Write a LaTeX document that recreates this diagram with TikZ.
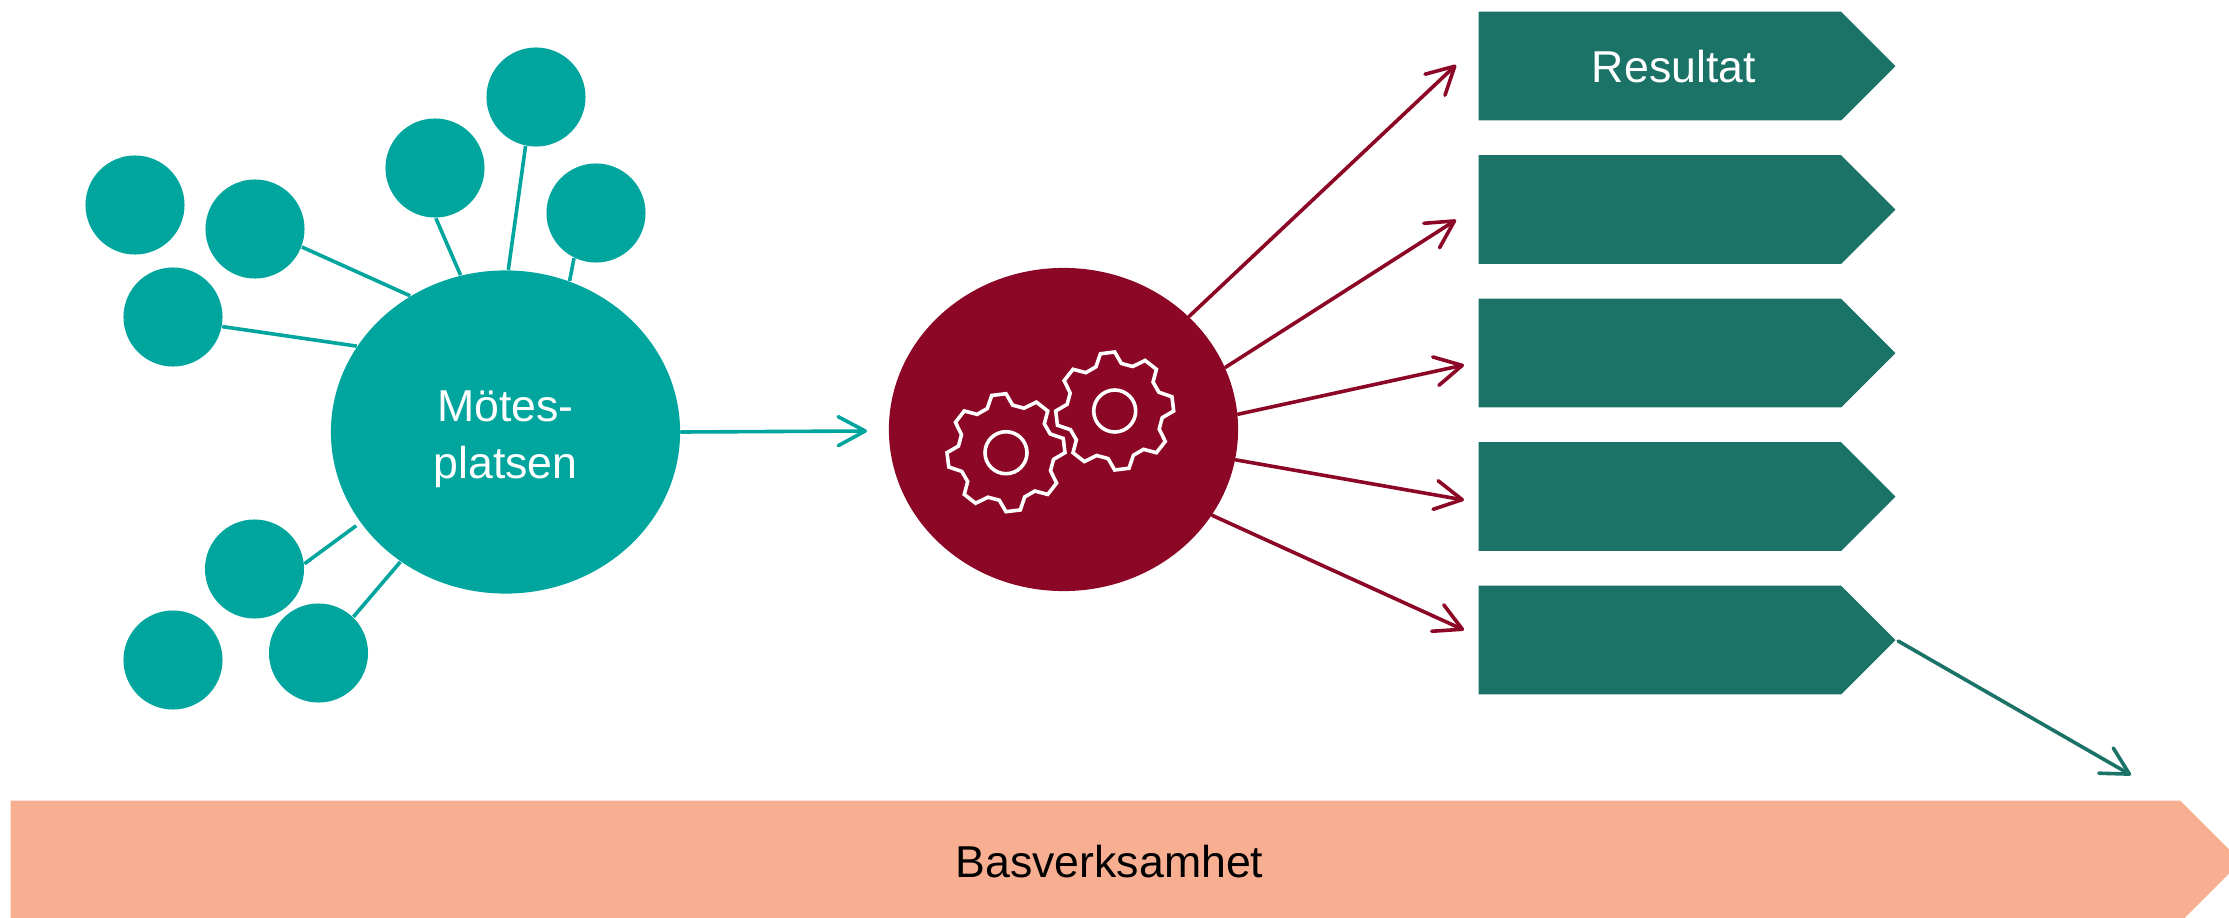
\documentclass[tikz,border=0pt]{standalone}
\usepackage{fontspec}
\setmainfont{Liberation Sans}
\usetikzlibrary{arrows.meta,positioning,shapes.geometric,shapes.symbols}

\definecolor{motecol}{HTML}{00A59D}
\definecolor{kuggcol}{HTML}{8B0725}
\definecolor{rescol}{HTML}{1B7367}
\definecolor{bascol}{HTML}{F7AE91}

\tikzset{
  bigcirc/.style={ellipse,minimum width=3.49cm,minimum height=3.23cm,inner sep=0pt,text=white,align=center},
  smallcirc/.style={circle,fill=motecol,minimum size=0.99cm,inner sep=0pt},
  resbox/.style={signal,signal to=east,signal pointer angle=90,fill=rescol,minimum width=4.165cm,minimum height=1.087cm,inner sep=0pt,text=white},
  link/.style={motecol,line width=0.036cm},
  pil/.style={-{Straight Barb[round,length=0.27cm,width=0.29cm]},line width=0.036cm,line cap=round},
  pics/kugg/.style={code={
    \draw[white,line width=0.036cm,line join=miter] (104:59)
      \foreach \a in {0,45,...,315} {-- (90-\a:59) -- (82-\a:48) -- (68-\a:48) -- (59-\a:59)} -- cycle;
    \draw[white,line width=0.036cm] (0,0) circle (21);
  }}
}

\begin{document}
\begin{tikzpicture}[x=0.01cm,y=0.01cm,font=\fontsize{12.7}{16.2}\selectfont,node distance=0.333cm]
  \clip (0,0) rectangle (2229,917);

  % meeting place with its satellites
  \node[smallcirc] (c1) at (135,712) {};
  \node[smallcirc] (c2) at (255,688) {};
  \node[smallcirc] (c3) at (173,600) {};
  \node[smallcirc] (c4) at (435,749) {};
  \node[smallcirc] (c5) at (536,820) {};
  \node[smallcirc] (c6) at (596,704) {};
  \node[smallcirc] (c7) at (254.5,348) {};
  \node[smallcirc] (c8) at (173,257) {};
  \node[smallcirc] (c9) at (318.5,264) {};
  \node[bigcirc,fill=motecol] (mote) at (505.5,485) {\rule{0pt}{0.46cm}Mötes-\\platsen};

  \draw[link] (c2.-21) -- (mote.125);
  \draw[link] (c3.-11) -- (mote.150);
  \draw[link] (c4.-89) -- (mote.106);
  \draw[link] (c5.-102) -- (mote.89.5);
  \draw[link] (c6.-116) -- (mote.67.6);
  \draw[link,shorten >=0.05cm] (c7.6) -- (mote.212.5);
  \draw[link] (c9.46) -- (mote.231.5);

  % machinery
  \node[bigcirc,fill=kuggcol] (kugg) at (1063.5,487.5) {};
  \pic at (1006,464.3) {kugg};
  \pic at (1114.7,506) {kugg};
  \draw[pil,motecol] (mote.east) -- (867,486);

  % results
  \node[resbox,anchor=north west] (res1) at (1478,906) {\hspace*{0.28cm}Resultat};
  \node[resbox,below=of res1] (res2) {};
  \node[resbox,below=of res2] (res3) {};
  \node[resbox,below=of res3] (res4) {};
  \node[resbox,below=of res4] (res5) {};

  \coordinate (t1) at (1456,852);
  \coordinate (t2) at (1456,697);
  \coordinate (t3) at (1464,552);
  \coordinate (t4) at (1464,417);
  \coordinate (t5) at (1464,287);
  \coordinate (t6) at (2131,142);
  \draw[pil,kuggcol] (kugg.42.6) -- (t1);
  \draw[pil,kuggcol] (kugg.21.2) -- (t2);
  \draw[pil,kuggcol] (kugg.5.9) -- (t3);
  \draw[pil,kuggcol] (kugg.-10.8) -- (t4);
  \draw[pil,kuggcol] (kugg.-30.8) -- (t5);
  \draw[pil,rescol,shorten <=0.02cm] (res5.east) -- (t6);

  % base
  \node[signal,signal to=east,signal pointer angle=90,fill=bascol,minimum width=22.29cm,minimum height=1.216cm,inner sep=0pt,anchor=west] (bas) at (10,55.5) {\hspace*{0.28cm}Basverksamhet};
\end{tikzpicture}
\end{document}
